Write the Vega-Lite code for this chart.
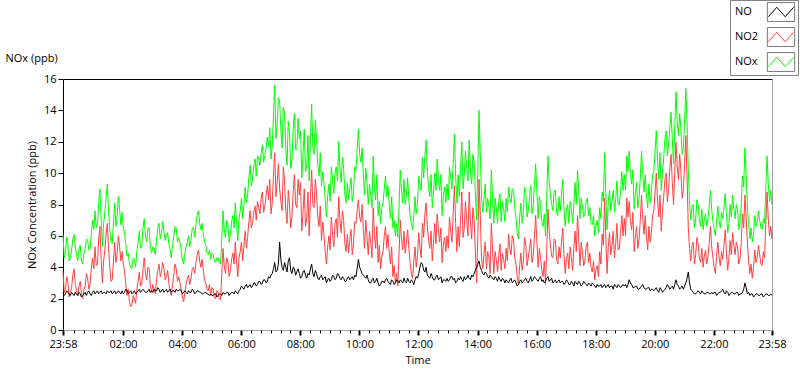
{
"$schema":"https://vega.github.io/schema/vega-lite/v6.json",
"width":709,"height":251,
"autosize":{"type":"none"},
"padding":{"left":63,"top":79,"right":28,"bottom":39},
"background":"#ffffff",
"config":{"font":"Open Sans","view":{"stroke":null},
 "axis":{"labelFont":"Open Sans","titleFont":"Open Sans","labelFontSize":11,"titleFontSize":11,"labelColor":"#000000","titleColor":"#000000","titleFontWeight":"normal","grid":false},
 "legend":{"labelFont":"Open Sans","labelFontSize":11,"labelColor":"#000000"}},
"data":{"values":[
{"t":0,"NO":2.4,"NO2":3.7,"NOx":6.1},{"t":5,"NO":2.3,"NO2":2.6,"NOx":4.9},{"t":10,"NO":2.4,"NO2":3.0,"NOx":5.4},{"t":15,"NO":2.2,"NO2":2.4,"NOx":4.6},{"t":20,"NO":2.3,"NO2":3.5,"NOx":5.8},{"t":25,"NO":2.4,"NO2":2.9,"NOx":5.3},{"t":30,"NO":2.2,"NO2":2.2,"NOx":4.4},{"t":35,"NO":2.3,"NO2":3.1,"NOx":5.4},{"t":40,"NO":2.2,"NO2":2.0,"NOx":4.2},{"t":45,"NO":2.4,"NO2":2.8,"NOx":5.2},{"t":50,"NO":2.4,"NO2":3.3,"NOx":5.7},{"t":55,"NO":2.3,"NO2":2.9,"NOx":5.2},
{"t":60,"NO":2.4,"NO2":4.6,"NOx":7.0},{"t":65,"NO":2.3,"NO2":5.3,"NOx":7.6},{"t":70,"NO":2.5,"NO2":4.2,"NOx":6.7},{"t":75,"NO":2.4,"NO2":6.6,"NOx":9.0},{"t":80,"NO":2.3,"NO2":3.0,"NOx":5.3},{"t":85,"NO":2.4,"NO2":5.1,"NOx":7.5},{"t":90,"NO":2.5,"NO2":6.8,"NOx":9.3},{"t":95,"NO":2.4,"NO2":4.0,"NOx":6.4},{"t":100,"NO":2.3,"NO2":3.2,"NOx":5.5},{"t":105,"NO":2.5,"NO2":5.6,"NOx":8.1},{"t":110,"NO":2.4,"NO2":4.9,"NOx":7.3},{"t":115,"NO":2.4,"NO2":5.3,"NOx":7.7},
{"t":120,"NO":2.5,"NO2":5.0,"NOx":7.5},{"t":125,"NO":2.4,"NO2":3.8,"NOx":6.2},{"t":130,"NO":2.5,"NO2":2.2,"NOx":4.7},{"t":135,"NO":2.4,"NO2":1.8,"NOx":4.2},{"t":140,"NO":2.3,"NO2":1.6,"NOx":3.9},{"t":145,"NO":2.5,"NO2":2.0,"NOx":4.5},{"t":150,"NO":2.4,"NO2":2.6,"NOx":5.0},{"t":155,"NO":2.6,"NO2":3.7,"NOx":6.3},{"t":160,"NO":2.5,"NO2":2.9,"NOx":5.4},{"t":165,"NO":2.5,"NO2":4.6,"NOx":7.1},{"t":170,"NO":2.4,"NO2":3.2,"NOx":5.6},{"t":175,"NO":2.6,"NO2":3.9,"NOx":6.5},
{"t":180,"NO":2.5,"NO2":2.4,"NOx":4.9},{"t":185,"NO":2.6,"NO2":2.6,"NOx":5.2},{"t":190,"NO":2.5,"NO2":3.2,"NOx":5.7},{"t":195,"NO":2.6,"NO2":4.2,"NOx":6.8},{"t":200,"NO":2.5,"NO2":3.7,"NOx":6.2},{"t":205,"NO":2.4,"NO2":3.9,"NOx":6.3},{"t":210,"NO":2.6,"NO2":3.4,"NOx":6.0},{"t":215,"NO":2.5,"NO2":3.0,"NOx":5.5},{"t":220,"NO":2.4,"NO2":2.2,"NOx":4.6},{"t":225,"NO":2.5,"NO2":3.5,"NOx":6.0},{"t":230,"NO":2.6,"NO2":3.9,"NOx":6.5},{"t":235,"NO":2.5,"NO2":3.4,"NOx":5.9},
{"t":240,"NO":2.5,"NO2":2.6,"NOx":5.1},{"t":245,"NO":2.4,"NO2":1.8,"NOx":4.2},{"t":250,"NO":2.4,"NO2":2.9,"NOx":5.3},{"t":255,"NO":2.5,"NO2":3.5,"NOx":6.0},{"t":260,"NO":2.4,"NO2":3.3,"NOx":5.7},{"t":265,"NO":2.5,"NO2":4.0,"NOx":6.5},{"t":270,"NO":2.4,"NO2":4.3,"NOx":6.7},{"t":275,"NO":2.5,"NO2":5.1,"NOx":7.6},{"t":280,"NO":2.4,"NO2":4.0,"NOx":6.4},{"t":285,"NO":2.3,"NO2":3.8,"NOx":6.1},{"t":290,"NO":2.4,"NO2":3.0,"NOx":5.4},{"t":295,"NO":2.3,"NO2":2.5,"NOx":4.8},
{"t":300,"NO":2.3,"NO2":2.2,"NOx":4.5},{"t":305,"NO":2.2,"NO2":2.6,"NOx":4.8},{"t":310,"NO":2.3,"NO2":2.0,"NOx":4.3},{"t":315,"NO":2.2,"NO2":2.4,"NOx":4.6},{"t":320,"NO":2.3,"NO2":1.9,"NOx":4.2},{"t":325,"NO":2.4,"NO2":5.2,"NOx":7.6},{"t":330,"NO":2.3,"NO2":3.6,"NOx":5.9},{"t":335,"NO":2.4,"NO2":4.3,"NOx":6.7},{"t":340,"NO":2.3,"NO2":3.8,"NOx":6.1},{"t":345,"NO":2.4,"NO2":4.9,"NOx":7.3},{"t":350,"NO":2.5,"NO2":5.6,"NOx":8.1},{"t":355,"NO":2.3,"NO2":3.4,"NOx":5.7},
{"t":360,"NO":2.6,"NO2":5.0,"NOx":7.6},{"t":365,"NO":2.7,"NO2":4.4,"NOx":7.1},{"t":370,"NO":2.8,"NO2":6.3,"NOx":9.1},{"t":375,"NO":2.7,"NO2":5.9,"NOx":8.6},{"t":380,"NO":2.9,"NO2":7.6,"NOx":10.5},{"t":385,"NO":2.8,"NO2":6.8,"NOx":9.6},{"t":390,"NO":3.0,"NO2":7.9,"NOx":10.9},{"t":395,"NO":2.9,"NO2":8.2,"NOx":11.1},{"t":400,"NO":3.1,"NO2":7.4,"NOx":10.5},{"t":405,"NO":3.0,"NO2":8.8,"NOx":11.8},{"t":410,"NO":3.2,"NO2":7.9,"NOx":11.1},{"t":415,"NO":3.1,"NO2":9.2,"NOx":12.3},
{"t":420,"NO":3.3,"NO2":9.6,"NOx":12.9},{"t":425,"NO":3.6,"NO2":8.1,"NOx":11.7},{"t":430,"NO":4.3,"NO2":11.3,"NOx":15.6},{"t":435,"NO":3.8,"NO2":9.4,"NOx":13.2},{"t":440,"NO":5.6,"NO2":9.0,"NOx":14.6},{"t":445,"NO":4.0,"NO2":7.6,"NOx":11.6},{"t":450,"NO":4.3,"NO2":9.5,"NOx":13.8},{"t":455,"NO":3.7,"NO2":6.8,"NOx":10.5},{"t":460,"NO":4.6,"NO2":8.0,"NOx":12.6},{"t":465,"NO":3.6,"NO2":7.2,"NOx":10.8},{"t":470,"NO":3.9,"NO2":9.9,"NOx":13.8},{"t":475,"NO":3.7,"NO2":7.8,"NOx":11.5},
{"t":480,"NO":3.6,"NO2":8.6,"NOx":12.2},{"t":485,"NO":3.4,"NO2":6.3,"NOx":9.7},{"t":490,"NO":3.8,"NO2":9.0,"NOx":12.8},{"t":495,"NO":3.3,"NO2":7.1,"NOx":10.4},{"t":500,"NO":3.5,"NO2":6.0,"NOx":9.5},{"t":505,"NO":4.2,"NO2":10.2,"NOx":14.4},{"t":510,"NO":3.4,"NO2":7.8,"NOx":11.2},{"t":515,"NO":3.6,"NO2":8.6,"NOx":12.2},{"t":520,"NO":3.2,"NO2":6.6,"NOx":9.8},{"t":525,"NO":3.5,"NO2":5.7,"NOx":9.2},{"t":530,"NO":3.3,"NO2":6.1,"NOx":9.4},{"t":535,"NO":3.0,"NO2":4.2,"NOx":7.2},
{"t":540,"NO":3.3,"NO2":6.0,"NOx":9.3},{"t":545,"NO":3.2,"NO2":7.2,"NOx":10.4},{"t":550,"NO":3.4,"NO2":5.3,"NOx":8.7},{"t":555,"NO":3.3,"NO2":7.1,"NOx":10.4},{"t":560,"NO":3.5,"NO2":8.5,"NOx":12.0},{"t":565,"NO":3.2,"NO2":6.2,"NOx":9.4},{"t":570,"NO":3.3,"NO2":7.0,"NOx":10.3},{"t":575,"NO":3.1,"NO2":5.0,"NOx":8.1},{"t":580,"NO":3.4,"NO2":4.9,"NOx":8.3},{"t":585,"NO":3.3,"NO2":6.4,"NOx":9.7},{"t":590,"NO":3.2,"NO2":5.5,"NOx":8.7},{"t":595,"NO":3.4,"NO2":6.8,"NOx":10.2},
{"t":600,"NO":4.5,"NO2":8.3,"NOx":12.8},{"t":605,"NO":3.8,"NO2":6.9,"NOx":10.7},{"t":610,"NO":3.5,"NO2":6.4,"NOx":9.9},{"t":615,"NO":3.3,"NO2":7.0,"NOx":10.3},{"t":620,"NO":3.2,"NO2":4.8,"NOx":8.0},{"t":625,"NO":3.0,"NO2":5.6,"NOx":8.6},{"t":630,"NO":3.3,"NO2":7.8,"NOx":11.1},{"t":635,"NO":3.1,"NO2":5.2,"NOx":8.3},{"t":640,"NO":3.0,"NO2":4.3,"NOx":7.3},{"t":645,"NO":2.9,"NO2":3.9,"NOx":6.8},{"t":650,"NO":3.1,"NO2":5.0,"NOx":8.1},{"t":655,"NO":3.2,"NO2":6.6,"NOx":9.8},
{"t":660,"NO":3.1,"NO2":6.1,"NOx":9.2},{"t":665,"NO":2.9,"NO2":4.2,"NOx":7.1},{"t":670,"NO":3.1,"NO2":3.4,"NOx":6.5},{"t":675,"NO":3.0,"NO2":3.0,"NOx":6.0},{"t":680,"NO":3.1,"NO2":2.8,"NOx":5.9},{"t":685,"NO":3.2,"NO2":7.0,"NOx":10.2},{"t":690,"NO":3.0,"NO2":5.1,"NOx":8.1},{"t":695,"NO":3.1,"NO2":4.9,"NOx":8.0},{"t":700,"NO":3.3,"NO2":6.4,"NOx":9.7},{"t":705,"NO":3.0,"NO2":4.3,"NOx":7.3},{"t":710,"NO":3.1,"NO2":3.3,"NOx":6.4},{"t":715,"NO":3.2,"NO2":5.3,"NOx":8.5},
{"t":720,"NO":3.3,"NO2":4.8,"NOx":8.1},{"t":725,"NO":4.0,"NO2":5.3,"NOx":9.3},{"t":730,"NO":4.2,"NO2":6.8,"NOx":11.0},{"t":735,"NO":3.7,"NO2":7.4,"NOx":11.1},{"t":740,"NO":3.5,"NO2":6.6,"NOx":10.1},{"t":745,"NO":3.3,"NO2":5.2,"NOx":8.5},{"t":750,"NO":3.4,"NO2":4.4,"NOx":7.8},{"t":755,"NO":3.2,"NO2":6.8,"NOx":10.0},{"t":760,"NO":3.5,"NO2":7.4,"NOx":10.9},{"t":765,"NO":3.3,"NO2":5.6,"NOx":8.9},{"t":770,"NO":3.0,"NO2":4.3,"NOx":7.3},{"t":775,"NO":3.2,"NO2":5.9,"NOx":9.1},
{"t":780,"NO":3.3,"NO2":6.0,"NOx":9.3},{"t":785,"NO":3.2,"NO2":7.2,"NOx":10.4},{"t":790,"NO":3.4,"NO2":5.6,"NOx":9.0},{"t":795,"NO":3.3,"NO2":9.2,"NOx":12.5},{"t":800,"NO":3.1,"NO2":5.0,"NOx":8.1},{"t":805,"NO":3.2,"NO2":5.3,"NOx":8.5},{"t":810,"NO":3.2,"NO2":8.8,"NOx":12.0},{"t":815,"NO":3.4,"NO2":6.5,"NOx":9.9},{"t":820,"NO":3.3,"NO2":7.0,"NOx":10.3},{"t":825,"NO":3.3,"NO2":8.8,"NOx":12.1},{"t":830,"NO":3.5,"NO2":5.8,"NOx":9.3},{"t":835,"NO":3.6,"NO2":7.1,"NOx":10.7},
{"t":840,"NO":4.0,"NO2":3.0,"NOx":7.0},{"t":845,"NO":4.4,"NO2":9.6,"NOx":14.0},{"t":850,"NO":3.8,"NO2":4.6,"NOx":8.4},{"t":855,"NO":3.5,"NO2":4.8,"NOx":8.3},{"t":860,"NO":3.6,"NO2":3.9,"NOx":7.5},{"t":865,"NO":3.3,"NO2":4.6,"NOx":7.9},{"t":870,"NO":3.4,"NO2":6.8,"NOx":10.2},{"t":875,"NO":3.2,"NO2":3.6,"NOx":6.8},{"t":880,"NO":3.3,"NO2":4.5,"NOx":7.8},{"t":885,"NO":3.4,"NO2":4.8,"NOx":8.2},{"t":890,"NO":3.1,"NO2":3.8,"NOx":6.9},{"t":895,"NO":3.2,"NO2":4.5,"NOx":7.7},
{"t":900,"NO":3.2,"NO2":5.2,"NOx":8.4},{"t":905,"NO":3.0,"NO2":6.1,"NOx":9.1},{"t":910,"NO":3.3,"NO2":4.8,"NOx":8.1},{"t":915,"NO":3.1,"NO2":5.8,"NOx":8.9},{"t":920,"NO":3.0,"NO2":4.2,"NOx":7.2},{"t":925,"NO":2.9,"NO2":2.9,"NOx":5.8},{"t":930,"NO":3.2,"NO2":4.9,"NOx":8.1},{"t":935,"NO":3.1,"NO2":4.4,"NOx":7.5},{"t":940,"NO":3.3,"NO2":5.4,"NOx":8.7},{"t":945,"NO":3.0,"NO2":4.6,"NOx":7.6},{"t":950,"NO":3.4,"NO2":5.8,"NOx":9.2},{"t":955,"NO":3.2,"NO2":4.7,"NOx":7.9},
{"t":960,"NO":3.3,"NO2":7.3,"NOx":10.6},{"t":965,"NO":3.1,"NO2":4.0,"NOx":7.1},{"t":970,"NO":3.4,"NO2":4.6,"NOx":8.0},{"t":975,"NO":3.2,"NO2":3.4,"NOx":6.6},{"t":980,"NO":3.1,"NO2":2.9,"NOx":6.0},{"t":985,"NO":3.4,"NO2":7.7,"NOx":11.1},{"t":990,"NO":3.2,"NO2":5.4,"NOx":8.6},{"t":995,"NO":3.0,"NO2":4.6,"NOx":7.6},{"t":1000,"NO":3.2,"NO2":5.7,"NOx":8.9},{"t":1005,"NO":3.1,"NO2":4.2,"NOx":7.3},{"t":1010,"NO":3.0,"NO2":4.6,"NOx":7.6},{"t":1015,"NO":3.1,"NO2":6.5,"NOx":9.6},
{"t":1020,"NO":3.0,"NO2":3.6,"NOx":6.6},{"t":1025,"NO":3.1,"NO2":4.9,"NOx":8.0},{"t":1030,"NO":2.9,"NO2":5.3,"NOx":8.2},{"t":1035,"NO":3.0,"NO2":3.8,"NOx":6.8},{"t":1040,"NO":3.1,"NO2":6.3,"NOx":9.4},{"t":1045,"NO":2.9,"NO2":7.3,"NOx":10.2},{"t":1050,"NO":3.0,"NO2":4.1,"NOx":7.1},{"t":1055,"NO":2.9,"NO2":5.0,"NOx":7.9},{"t":1060,"NO":3.0,"NO2":4.4,"NOx":7.4},{"t":1065,"NO":2.8,"NO2":5.6,"NOx":8.4},{"t":1070,"NO":2.9,"NO2":4.9,"NOx":7.8},{"t":1075,"NO":3.0,"NO2":3.7,"NOx":6.7},
{"t":1080,"NO":2.8,"NO2":3.2,"NOx":6.0},{"t":1085,"NO":2.9,"NO2":4.1,"NOx":7.0},{"t":1090,"NO":2.8,"NO2":5.0,"NOx":7.8},{"t":1095,"NO":2.7,"NO2":6.1,"NOx":8.8},{"t":1100,"NO":2.9,"NO2":8.4,"NOx":11.3},{"t":1105,"NO":2.8,"NO2":3.6,"NOx":6.4},{"t":1110,"NO":2.7,"NO2":6.2,"NOx":8.9},{"t":1115,"NO":2.8,"NO2":5.4,"NOx":8.2},{"t":1120,"NO":2.9,"NO2":4.6,"NOx":7.5},{"t":1125,"NO":2.7,"NO2":6.8,"NOx":9.5},{"t":1130,"NO":2.8,"NO2":5.2,"NOx":8.0},{"t":1135,"NO":2.8,"NO2":7.3,"NOx":10.1},
{"t":1140,"NO":2.8,"NO2":7.1,"NOx":9.9},{"t":1145,"NO":2.7,"NO2":8.4,"NOx":11.1},{"t":1150,"NO":3.2,"NO2":8.2,"NOx":11.4},{"t":1155,"NO":2.9,"NO2":6.4,"NOx":9.3},{"t":1160,"NO":2.7,"NO2":5.0,"NOx":7.7},{"t":1165,"NO":2.8,"NO2":6.6,"NOx":9.4},{"t":1170,"NO":2.6,"NO2":5.8,"NOx":8.4},{"t":1175,"NO":2.8,"NO2":8.6,"NOx":11.4},{"t":1180,"NO":2.7,"NO2":6.1,"NOx":8.8},{"t":1185,"NO":2.6,"NO2":6.0,"NOx":8.6},{"t":1190,"NO":2.7,"NO2":6.6,"NOx":9.3},{"t":1195,"NO":2.6,"NO2":6.2,"NOx":8.8},
{"t":1200,"NO":2.5,"NO2":7.6,"NOx":10.1},{"t":1205,"NO":2.7,"NO2":10.0,"NOx":12.7},{"t":1210,"NO":2.4,"NO2":7.2,"NOx":9.6},{"t":1215,"NO":2.6,"NO2":6.3,"NOx":8.9},{"t":1220,"NO":2.5,"NO2":8.5,"NOx":11.0},{"t":1225,"NO":2.7,"NO2":10.0,"NOx":12.7},{"t":1230,"NO":2.8,"NO2":9.0,"NOx":11.8},{"t":1235,"NO":2.7,"NO2":11.2,"NOx":13.9},{"t":1240,"NO":2.6,"NO2":8.0,"NOx":10.6},{"t":1245,"NO":3.2,"NO2":12.0,"NOx":15.2},{"t":1250,"NO":2.8,"NO2":9.6,"NOx":12.4},{"t":1255,"NO":2.7,"NO2":10.1,"NOx":12.8},
{"t":1260,"NO":2.6,"NO2":9.0,"NOx":11.6},{"t":1265,"NO":3.0,"NO2":12.4,"NOx":15.4},{"t":1270,"NO":3.7,"NO2":6.5,"NOx":10.2},{"t":1275,"NO":2.6,"NO2":4.4,"NOx":7.0},{"t":1280,"NO":2.4,"NO2":5.6,"NOx":8.0},{"t":1285,"NO":2.3,"NO2":4.8,"NOx":7.1},{"t":1290,"NO":2.5,"NO2":5.5,"NOx":8.0},{"t":1295,"NO":2.3,"NO2":4.3,"NOx":6.6},{"t":1300,"NO":2.4,"NO2":4.0,"NOx":6.4},{"t":1305,"NO":2.3,"NO2":5.1,"NOx":7.4},{"t":1310,"NO":2.4,"NO2":4.7,"NOx":7.1},{"t":1315,"NO":2.3,"NO2":6.6,"NOx":8.9},
{"t":1320,"NO":2.3,"NO2":4.6,"NOx":6.9},{"t":1325,"NO":2.4,"NO2":3.6,"NOx":6.0},{"t":1330,"NO":2.3,"NO2":5.6,"NOx":7.9},{"t":1335,"NO":2.4,"NO2":4.1,"NOx":6.5},{"t":1340,"NO":2.6,"NO2":4.5,"NOx":7.1},{"t":1345,"NO":2.3,"NO2":6.4,"NOx":8.7},{"t":1350,"NO":2.4,"NO2":3.8,"NOx":6.2},{"t":1355,"NO":2.3,"NO2":5.7,"NOx":8.0},{"t":1360,"NO":2.4,"NO2":6.2,"NOx":8.6},{"t":1365,"NO":2.3,"NO2":4.8,"NOx":7.1},{"t":1370,"NO":2.4,"NO2":5.3,"NOx":7.7},{"t":1375,"NO":2.3,"NO2":4.5,"NOx":6.8},
{"t":1380,"NO":2.4,"NO2":7.4,"NOx":9.8},{"t":1385,"NO":3.0,"NO2":8.6,"NOx":11.6},{"t":1390,"NO":2.3,"NO2":5.6,"NOx":7.9},{"t":1395,"NO":2.2,"NO2":3.6,"NOx":5.8},{"t":1400,"NO":2.3,"NO2":3.3,"NOx":5.6},{"t":1405,"NO":2.2,"NO2":5.1,"NOx":7.3},{"t":1410,"NO":2.3,"NO2":4.6,"NOx":6.9},{"t":1415,"NO":2.2,"NO2":4.8,"NOx":7.0},{"t":1420,"NO":2.3,"NO2":4.1,"NOx":6.4},{"t":1425,"NO":2.2,"NO2":4.6,"NOx":6.8},{"t":1430,"NO":2.3,"NO2":8.8,"NOx":11.1},{"t":1435,"NO":2.2,"NO2":6.0,"NOx":8.2},{"t":1440,"NO":2.2,"NO2":5.8,"NOx":8.0},
{"t":2.5,"NO":2.2,"NO2":2.4,"NOx":4.6},{"t":7.5,"NO":2.5,"NO2":3.4,"NOx":5.9},{"t":12.5,"NO":2.3,"NO2":2.1,"NOx":4.4},{"t":17.5,"NO":2.4,"NO2":2.7,"NOx":5.1},{"t":22.5,"NO":2.2,"NO2":3.9,"NOx":6.1},{"t":27.5,"NO":2.3,"NO2":2.5,"NOx":4.8},{"t":32.5,"NO":2.4,"NO2":2.8,"NOx":5.2},{"t":37.5,"NO":2.1,"NO2":2.3,"NOx":4.4},{"t":42.5,"NO":2.3,"NO2":2.6,"NOx":4.9},{"t":47.5,"NO":2.2,"NO2":3.6,"NOx":5.8},{"t":52.5,"NO":2.5,"NO2":2.6,"NOx":5.1},{"t":57.5,"NO":2.2,"NO2":3.9,"NOx":6.1},
{"t":62.5,"NO":2.5,"NO2":3.9,"NOx":6.4},{"t":67.5,"NO":2.4,"NO2":4.1,"NOx":6.5},{"t":72.5,"NO":2.3,"NO2":5.8,"NOx":8.1},{"t":77.5,"NO":2.5,"NO2":4.5,"NOx":7.0},{"t":82.5,"NO":2.4,"NO2":4.4,"NOx":6.8},{"t":87.5,"NO":2.3,"NO2":6.1,"NOx":8.4},{"t":92.5,"NO":2.4,"NO2":5.2,"NOx":7.6},{"t":97.5,"NO":2.5,"NO2":3.1,"NOx":5.6},{"t":102.5,"NO":2.4,"NO2":4.4,"NOx":6.8},{"t":107.5,"NO":2.3,"NO2":4.3,"NOx":6.6},{"t":112.5,"NO":2.5,"NO2":6.0,"NOx":8.5},{"t":117.5,"NO":2.3,"NO2":4.4,"NOx":6.7},
{"t":122.5,"NO":2.3,"NO2":4.2,"NOx":6.5},{"t":127.5,"NO":2.6,"NO2":2.9,"NOx":5.5},{"t":132.5,"NO":2.3,"NO2":2.6,"NOx":4.9},{"t":137.5,"NO":2.5,"NO2":1.5,"NOx":4.0},{"t":142.5,"NO":2.4,"NO2":2.2,"NOx":4.6},{"t":147.5,"NO":2.3,"NO2":1.7,"NOx":4.0},{"t":152.5,"NO":2.5,"NO2":3.1,"NOx":5.6},{"t":157.5,"NO":2.4,"NO2":2.8,"NOx":5.2},{"t":162.5,"NO":2.6,"NO2":3.9,"NOx":6.5},{"t":167.5,"NO":2.4,"NO2":3.6,"NOx":6.0},{"t":172.5,"NO":2.5,"NO2":4.0,"NOx":6.5},{"t":177.5,"NO":2.4,"NO2":2.8,"NOx":5.2},
{"t":182.5,"NO":2.4,"NO2":2.9,"NOx":5.3},{"t":187.5,"NO":2.5,"NO2":2.3,"NOx":4.8},{"t":192.5,"NO":2.7,"NO2":3.8,"NOx":6.5},{"t":197.5,"NO":2.4,"NO2":3.4,"NOx":5.8},{"t":202.5,"NO":2.6,"NO2":4.3,"NOx":6.9},{"t":207.5,"NO":2.5,"NO2":3.2,"NOx":5.7},{"t":212.5,"NO":2.4,"NO2":3.8,"NOx":6.2},{"t":217.5,"NO":2.6,"NO2":2.5,"NOx":5.1},{"t":222.5,"NO":2.5,"NO2":2.9,"NOx":5.4},{"t":227.5,"NO":2.4,"NO2":4.2,"NOx":6.6},{"t":232.5,"NO":2.5,"NO2":3.1,"NOx":5.6},{"t":237.5,"NO":2.6,"NO2":3.0,"NOx":5.6},
{"t":242.5,"NO":2.3,"NO2":2.1,"NOx":4.4},{"t":247.5,"NO":2.5,"NO2":2.4,"NOx":4.9},{"t":252.5,"NO":2.3,"NO2":3.3,"NOx":5.6},{"t":257.5,"NO":2.4,"NO2":2.9,"NOx":5.3},{"t":262.5,"NO":2.6,"NO2":3.9,"NOx":6.5},{"t":267.5,"NO":2.3,"NO2":3.6,"NOx":5.9},{"t":272.5,"NO":2.5,"NO2":4.8,"NOx":7.3},{"t":277.5,"NO":2.4,"NO2":4.4,"NOx":6.8},{"t":282.5,"NO":2.3,"NO2":4.5,"NOx":6.8},{"t":287.5,"NO":2.4,"NO2":3.2,"NOx":5.6},{"t":292.5,"NO":2.3,"NO2":2.6,"NOx":4.9},{"t":297.5,"NO":2.2,"NO2":2.9,"NOx":5.1},
{"t":302.5,"NO":2.2,"NO2":2.7,"NOx":4.9},{"t":307.5,"NO":2.3,"NO2":2.1,"NOx":4.4},{"t":312.5,"NO":2.1,"NO2":2.5,"NOx":4.6},{"t":317.5,"NO":2.3,"NO2":2.0,"NOx":4.3},{"t":322.5,"NO":2.2,"NO2":3.6,"NOx":5.8},{"t":327.5,"NO":2.3,"NO2":4.1,"NOx":6.4},{"t":332.5,"NO":2.4,"NO2":4.6,"NOx":7.0},{"t":337.5,"NO":2.2,"NO2":3.4,"NOx":5.6},{"t":342.5,"NO":2.4,"NO2":4.5,"NOx":6.9},{"t":347.5,"NO":2.3,"NO2":4.2,"NOx":6.5},{"t":352.5,"NO":2.4,"NO2":4.4,"NOx":6.8},{"t":357.5,"NO":2.5,"NO2":4.6,"NOx":7.1},
{"t":362.5,"NO":2.8,"NO2":5.6,"NOx":8.4},{"t":367.5,"NO":2.6,"NO2":5.4,"NOx":8.0},{"t":372.5,"NO":2.9,"NO2":5.2,"NOx":8.1},{"t":377.5,"NO":2.8,"NO2":6.9,"NOx":9.7},{"t":382.5,"NO":2.7,"NO2":6.5,"NOx":9.2},{"t":387.5,"NO":3.0,"NO2":7.5,"NOx":10.5},{"t":392.5,"NO":2.8,"NO2":7.0,"NOx":9.8},{"t":397.5,"NO":3.1,"NO2":7.8,"NOx":10.9},{"t":402.5,"NO":2.9,"NO2":8.4,"NOx":11.3},{"t":407.5,"NO":3.2,"NO2":7.5,"NOx":10.7},{"t":412.5,"NO":3.0,"NO2":8.6,"NOx":11.6},{"t":417.5,"NO":3.4,"NO2":8.3,"NOx":11.7},
{"t":422.5,"NO":3.5,"NO2":7.4,"NOx":10.9},{"t":427.5,"NO":3.9,"NO2":9.8,"NOx":13.7},{"t":432.5,"NO":3.7,"NO2":8.5,"NOx":12.2},{"t":437.5,"NO":4.2,"NO2":10.6,"NOx":14.8},{"t":442.5,"NO":4.5,"NO2":8.2,"NOx":12.7},{"t":447.5,"NO":3.8,"NO2":10.4,"NOx":14.2},{"t":452.5,"NO":4.0,"NO2":7.6,"NOx":11.6},{"t":457.5,"NO":4.4,"NO2":8.9,"NOx":13.3},{"t":462.5,"NO":3.8,"NO2":6.5,"NOx":10.3},{"t":467.5,"NO":4.0,"NO2":8.8,"NOx":12.8},{"t":472.5,"NO":3.5,"NO2":8.0,"NOx":11.5},{"t":477.5,"NO":3.9,"NO2":9.6,"NOx":13.5},
{"t":482.5,"NO":3.3,"NO2":9.4,"NOx":12.7},{"t":487.5,"NO":3.7,"NO2":7.5,"NOx":11.2},{"t":492.5,"NO":3.5,"NO2":6.6,"NOx":10.1},{"t":497.5,"NO":3.6,"NO2":8.8,"NOx":12.4},{"t":502.5,"NO":3.9,"NO2":8.3,"NOx":12.2},{"t":507.5,"NO":3.6,"NO2":8.0,"NOx":11.6},{"t":512.5,"NO":3.8,"NO2":9.6,"NOx":13.4},{"t":517.5,"NO":3.3,"NO2":7.2,"NOx":10.5},{"t":522.5,"NO":3.4,"NO2":7.9,"NOx":11.3},{"t":527.5,"NO":3.2,"NO2":6.9,"NOx":10.1},{"t":532.5,"NO":3.4,"NO2":5.0,"NOx":8.4},{"t":537.5,"NO":3.2,"NO2":5.3,"NOx":8.5},
{"t":542.5,"NO":3.1,"NO2":5.1,"NOx":8.2},{"t":547.5,"NO":3.5,"NO2":6.1,"NOx":9.6},{"t":552.5,"NO":3.2,"NO2":6.8,"NOx":10.0},{"t":557.5,"NO":3.6,"NO2":5.9,"NOx":9.5},{"t":562.5,"NO":3.3,"NO2":7.0,"NOx":10.3},{"t":567.5,"NO":3.4,"NO2":7.6,"NOx":11.0},{"t":572.5,"NO":3.1,"NO2":5.5,"NOx":8.6},{"t":577.5,"NO":3.3,"NO2":6.1,"NOx":9.4},{"t":582.5,"NO":3.2,"NO2":5.8,"NOx":9.0},{"t":587.5,"NO":3.4,"NO2":4.8,"NOx":8.2},{"t":592.5,"NO":3.5,"NO2":6.9,"NOx":10.4},{"t":597.5,"NO":3.9,"NO2":7.6,"NOx":11.5},
{"t":602.5,"NO":4.0,"NO2":7.2,"NOx":11.2},{"t":607.5,"NO":3.6,"NO2":8.0,"NOx":11.6},{"t":612.5,"NO":3.4,"NO2":5.2,"NOx":8.6},{"t":617.5,"NO":3.5,"NO2":5.9,"NOx":9.4},{"t":622.5,"NO":3.0,"NO2":6.3,"NOx":9.3},{"t":627.5,"NO":3.2,"NO2":4.6,"NOx":7.8},{"t":632.5,"NO":3.0,"NO2":6.1,"NOx":9.1},{"t":637.5,"NO":3.3,"NO2":6.6,"NOx":9.9},{"t":642.5,"NO":2.8,"NO2":5.4,"NOx":8.2},{"t":647.5,"NO":3.1,"NO2":4.7,"NOx":7.8},{"t":652.5,"NO":3.0,"NO2":6.0,"NOx":9.0},{"t":657.5,"NO":3.3,"NO2":5.2,"NOx":8.5},
{"t":662.5,"NO":3.0,"NO2":5.0,"NOx":8.0},{"t":667.5,"NO":3.2,"NO2":5.3,"NOx":8.5},{"t":672.5,"NO":2.9,"NO2":4.1,"NOx":7.0},{"t":677.5,"NO":3.2,"NO2":3.6,"NOx":6.8},{"t":682.5,"NO":3.0,"NO2":4.9,"NOx":7.9},{"t":687.5,"NO":3.1,"NO2":5.8,"NOx":8.9},{"t":692.5,"NO":3.3,"NO2":6.3,"NOx":9.6},{"t":697.5,"NO":3.0,"NO2":5.6,"NOx":8.6},{"t":702.5,"NO":3.1,"NO2":5.2,"NOx":8.3},{"t":707.5,"NO":3.2,"NO2":3.6,"NOx":6.8},{"t":712.5,"NO":2.9,"NO2":4.4,"NOx":7.3},{"t":717.5,"NO":3.4,"NO2":4.0,"NOx":7.4},
{"t":722.5,"NO":3.6,"NO2":6.2,"NOx":9.8},{"t":727.5,"NO":4.3,"NO2":4.6,"NOx":8.9},{"t":732.5,"NO":3.8,"NO2":5.9,"NOx":9.7},{"t":737.5,"NO":4.0,"NO2":8.1,"NOx":12.1},{"t":742.5,"NO":3.4,"NO2":5.7,"NOx":9.1},{"t":747.5,"NO":3.6,"NO2":6.3,"NOx":9.9},{"t":752.5,"NO":3.2,"NO2":5.6,"NOx":8.8},{"t":757.5,"NO":3.4,"NO2":5.5,"NOx":8.9},{"t":762.5,"NO":3.2,"NO2":6.4,"NOx":9.6},{"t":767.5,"NO":3.4,"NO2":6.5,"NOx":9.9},{"t":772.5,"NO":3.2,"NO2":5.4,"NOx":8.6},{"t":777.5,"NO":3.1,"NO2":5.0,"NOx":8.1},
{"t":782.5,"NO":3.1,"NO2":5.2,"NOx":8.3},{"t":787.5,"NO":3.4,"NO2":6.3,"NOx":9.7},{"t":792.5,"NO":3.2,"NO2":7.4,"NOx":10.6},{"t":797.5,"NO":3.0,"NO2":6.8,"NOx":9.8},{"t":802.5,"NO":3.3,"NO2":6.6,"NOx":9.9},{"t":807.5,"NO":3.4,"NO2":7.0,"NOx":10.4},{"t":812.5,"NO":3.1,"NO2":5.9,"NOx":9.0},{"t":817.5,"NO":3.2,"NO2":8.2,"NOx":11.4},{"t":822.5,"NO":3.5,"NO2":6.0,"NOx":9.5},{"t":827.5,"NO":3.2,"NO2":6.9,"NOx":10.1},{"t":832.5,"NO":3.4,"NO2":7.8,"NOx":11.2},{"t":837.5,"NO":3.8,"NO2":5.0,"NOx":8.8},
{"t":842.5,"NO":4.2,"NO2":6.0,"NOx":10.2},{"t":847.5,"NO":4.0,"NO2":7.3,"NOx":11.3},{"t":852.5,"NO":3.6,"NO2":3.9,"NOx":7.5},{"t":857.5,"NO":3.7,"NO2":5.6,"NOx":9.3},{"t":862.5,"NO":3.4,"NO2":5.0,"NOx":8.4},{"t":867.5,"NO":3.5,"NO2":3.6,"NOx":7.1},{"t":872.5,"NO":3.3,"NO2":5.1,"NOx":8.4},{"t":877.5,"NO":3.4,"NO2":5.0,"NOx":8.4},{"t":882.5,"NO":3.1,"NO2":3.7,"NOx":6.8},{"t":887.5,"NO":3.2,"NO2":5.5,"NOx":8.7},{"t":892.5,"NO":3.3,"NO2":4.9,"NOx":8.2},{"t":897.5,"NO":3.0,"NO2":3.9,"NOx":6.9},
{"t":902.5,"NO":3.1,"NO2":4.4,"NOx":7.5},{"t":907.5,"NO":3.2,"NO2":5.2,"NOx":8.4},{"t":912.5,"NO":3.0,"NO2":6.0,"NOx":9.0},{"t":917.5,"NO":3.2,"NO2":4.6,"NOx":7.8},{"t":922.5,"NO":2.8,"NO2":3.4,"NOx":6.2},{"t":927.5,"NO":3.1,"NO2":4.1,"NOx":7.2},{"t":932.5,"NO":3.0,"NO2":3.8,"NOx":6.8},{"t":937.5,"NO":3.2,"NO2":5.9,"NOx":9.1},{"t":942.5,"NO":3.1,"NO2":4.1,"NOx":7.2},{"t":947.5,"NO":3.2,"NO2":5.2,"NOx":8.4},{"t":952.5,"NO":3.1,"NO2":4.3,"NOx":7.4},{"t":957.5,"NO":3.4,"NO2":5.9,"NOx":9.3},
{"t":962.5,"NO":3.2,"NO2":5.6,"NOx":8.8},{"t":967.5,"NO":3.3,"NO2":5.2,"NOx":8.5},{"t":972.5,"NO":3.1,"NO2":3.8,"NOx":6.9},{"t":977.5,"NO":3.0,"NO2":4.4,"NOx":7.4},{"t":982.5,"NO":3.3,"NO2":5.1,"NOx":8.4},{"t":987.5,"NO":3.1,"NO2":6.3,"NOx":9.4},{"t":992.5,"NO":3.3,"NO2":4.7,"NOx":8.0},{"t":997.5,"NO":3.1,"NO2":5.8,"NOx":8.9},{"t":1002.5,"NO":3.0,"NO2":4.5,"NOx":7.5},{"t":1007.5,"NO":3.2,"NO2":5.3,"NOx":8.5},{"t":1012.5,"NO":3.1,"NO2":5.6,"NOx":8.7},{"t":1017.5,"NO":2.9,"NO2":4.8,"NOx":7.7},
{"t":1022.5,"NO":3.2,"NO2":4.5,"NOx":7.7},{"t":1027.5,"NO":2.9,"NO2":3.9,"NOx":6.8},{"t":1032.5,"NO":3.1,"NO2":4.6,"NOx":7.7},{"t":1037.5,"NO":2.8,"NO2":5.2,"NOx":8.0},{"t":1042.5,"NO":3.0,"NO2":5.0,"NOx":8.0},{"t":1047.5,"NO":3.1,"NO2":5.8,"NOx":8.9},{"t":1052.5,"NO":2.8,"NO2":5.6,"NOx":8.4},{"t":1057.5,"NO":3.1,"NO2":4.1,"NOx":7.2},{"t":1062.5,"NO":2.9,"NO2":5.3,"NOx":8.2},{"t":1067.5,"NO":3.0,"NO2":4.3,"NOx":7.3},{"t":1072.5,"NO":2.8,"NO2":4.0,"NOx":6.8},{"t":1077.5,"NO":2.9,"NO2":4.4,"NOx":7.3},
{"t":1082.5,"NO":2.7,"NO2":3.9,"NOx":6.6},{"t":1087.5,"NO":2.8,"NO2":3.4,"NOx":6.2},{"t":1092.5,"NO":2.9,"NO2":4.2,"NOx":7.1},{"t":1097.5,"NO":2.8,"NO2":5.4,"NOx":8.2},{"t":1102.5,"NO":2.7,"NO2":6.0,"NOx":8.7},{"t":1107.5,"NO":2.9,"NO2":5.3,"NOx":8.2},{"t":1112.5,"NO":2.8,"NO2":4.8,"NOx":7.6},{"t":1117.5,"NO":2.6,"NO2":6.3,"NOx":8.9},{"t":1122.5,"NO":2.8,"NO2":5.5,"NOx":8.3},{"t":1127.5,"NO":2.9,"NO2":5.1,"NOx":8.0},{"t":1132.5,"NO":2.7,"NO2":6.2,"NOx":8.9},{"t":1137.5,"NO":2.9,"NO2":6.0,"NOx":8.9},
{"t":1142.5,"NO":2.9,"NO2":6.0,"NOx":8.9},{"t":1147.5,"NO":2.9,"NO2":7.2,"NOx":10.1},{"t":1152.5,"NO":3.0,"NO2":6.9,"NOx":9.9},{"t":1157.5,"NO":2.7,"NO2":7.5,"NOx":10.2},{"t":1162.5,"NO":2.8,"NO2":5.9,"NOx":8.7},{"t":1167.5,"NO":2.6,"NO2":5.2,"NOx":7.8},{"t":1172.5,"NO":2.7,"NO2":7.0,"NOx":9.7},{"t":1177.5,"NO":2.9,"NO2":7.1,"NOx":10.0},{"t":1182.5,"NO":2.6,"NO2":7.3,"NOx":9.9},{"t":1187.5,"NO":2.7,"NO2":5.1,"NOx":7.8},{"t":1192.5,"NO":2.5,"NO2":5.6,"NOx":8.1},{"t":1197.5,"NO":2.6,"NO2":7.3,"NOx":9.9},
{"t":1202.5,"NO":2.6,"NO2":8.8,"NOx":11.4},{"t":1207.5,"NO":2.5,"NO2":8.3,"NOx":10.8},{"t":1212.5,"NO":2.7,"NO2":8.6,"NOx":11.3},{"t":1217.5,"NO":2.4,"NO2":7.5,"NOx":9.9},{"t":1222.5,"NO":2.6,"NO2":9.6,"NOx":12.2},{"t":1227.5,"NO":2.9,"NO2":8.2,"NOx":11.1},{"t":1232.5,"NO":2.6,"NO2":10.3,"NOx":12.9},{"t":1237.5,"NO":2.8,"NO2":9.4,"NOx":12.2},{"t":1242.5,"NO":2.9,"NO2":10.1,"NOx":13.0},{"t":1247.5,"NO":2.9,"NO2":10.4,"NOx":13.3},{"t":1252.5,"NO":2.6,"NO2":11.2,"NOx":13.8},{"t":1257.5,"NO":2.8,"NO2":8.4,"NOx":11.2},
{"t":1262.5,"NO":2.8,"NO2":10.6,"NOx":13.4},{"t":1267.5,"NO":3.3,"NO2":9.8,"NOx":13.1},{"t":1272.5,"NO":3.0,"NO2":5.2,"NOx":8.2},{"t":1277.5,"NO":2.5,"NO2":5.4,"NOx":7.9},{"t":1282.5,"NO":2.3,"NO2":4.2,"NOx":6.5},{"t":1287.5,"NO":2.4,"NO2":5.9,"NOx":8.3},{"t":1292.5,"NO":2.4,"NO2":4.6,"NOx":7.0},{"t":1297.5,"NO":2.5,"NO2":5.2,"NOx":7.7},{"t":1302.5,"NO":2.3,"NO2":4.7,"NOx":7.0},{"t":1307.5,"NO":2.4,"NO2":4.2,"NOx":6.6},{"t":1312.5,"NO":2.3,"NO2":5.6,"NOx":7.9},{"t":1317.5,"NO":2.4,"NO2":5.3,"NOx":7.7},
{"t":1322.5,"NO":2.4,"NO2":4.0,"NOx":6.4},{"t":1327.5,"NO":2.2,"NO2":4.7,"NOx":6.9},{"t":1332.5,"NO":2.4,"NO2":4.6,"NOx":7.0},{"t":1337.5,"NO":2.5,"NO2":5.0,"NOx":7.5},{"t":1342.5,"NO":2.4,"NO2":5.4,"NOx":7.8},{"t":1347.5,"NO":2.5,"NO2":4.9,"NOx":7.4},{"t":1352.5,"NO":2.2,"NO2":4.6,"NOx":6.8},{"t":1357.5,"NO":2.4,"NO2":4.8,"NOx":7.2},{"t":1362.5,"NO":2.3,"NO2":5.4,"NOx":7.7},{"t":1367.5,"NO":2.4,"NO2":5.6,"NOx":8.0},{"t":1372.5,"NO":2.2,"NO2":4.2,"NOx":6.4},{"t":1377.5,"NO":2.3,"NO2":5.6,"NOx":7.9},
{"t":1382.5,"NO":2.6,"NO2":6.5,"NOx":9.1},{"t":1387.5,"NO":2.7,"NO2":7.2,"NOx":9.9},{"t":1392.5,"NO":2.4,"NO2":4.4,"NOx":6.8},{"t":1397.5,"NO":2.3,"NO2":4.2,"NOx":6.5},{"t":1402.5,"NO":2.1,"NO2":4.0,"NOx":6.1},{"t":1407.5,"NO":2.3,"NO2":4.3,"NOx":6.6},{"t":1412.5,"NO":2.2,"NO2":5.4,"NOx":7.6},{"t":1417.5,"NO":2.3,"NO2":4.2,"NOx":6.5},{"t":1422.5,"NO":2.1,"NO2":5.0,"NOx":7.1},{"t":1427.5,"NO":2.3,"NO2":6.9,"NOx":9.2},{"t":1432.5,"NO":2.2,"NO2":7.1,"NOx":9.3},{"t":1437.5,"NO":2.3,"NO2":6.6,"NOx":8.9}
]},
"layer":[
 {"transform":[{"fold":["NOx","NO2","NO"],"as":["series","value"]}],
  "mark":{"type":"line","strokeWidth":1},
  "encoding":{
   "x":{"field":"t","type":"quantitative","scale":{"domain":[0,1440],"nice":false,"zero":false},
        "axis":{"values":[0,122,242,362,482,602,722,842,962,1082,1202,1322,1440],"labelExpr":"timeFormat(datetime(2000,0,1,23,58+datum.value),'%H:%M')","tickSize":5,"tickWidth":2,"tickColor":"#000000","domainColor":"#a0a0a0","labelPadding":3,"labelOverlap":false,"labelFlush":false,"title":"Time","titlePadding":5}},
   "y":{"field":"value","type":"quantitative","scale":{"domain":[0,16],"nice":false},
        "axis":{"values":[0,2,4,6,8,10,12,14,16],"tickSize":5,"tickColor":"#000000","domainColor":"#000000","labelPadding":2,"title":"NOx Concentration (ppb)","titlePadding":6}},
   "color":{"field":"series","type":"nominal","scale":{"range":["#000000","#ff4040","#00ff00"]},
        "legend":{"title":null,"orient":"none","legendX":667,"legendY":-79,"direction":"vertical","padding":1,"strokeColor":"#808080","fillColor":"#ffffff","symbolType":"M-1.3,-0.9M1.3,0.9M-1.2,0.45L-0.4,-0.45L0.4,0.45L1.2,-0.45","symbolSize":441,"symbolStrokeWidth":1,"symbolFillColor":"transparent","symbolOffset":39,"labelOffset":-57,"rowPadding":1}}
  }},
 {"data":{"values":[]},
  "mark":{"type":"point","filled":false,"color":"#404040"},
  "encoding":{
   "x":{"field":"t","type":"quantitative","scale":{"domain":[0,1440],"nice":false,"zero":false},
        "axis":{"values":[22,42,62,82,102,122,142,162,182,202,222,242,262,282,302,322,342,362,382,402,422,442,462,482,502,522,542,562,582,602,622,642,662,682,702,722,742,762,782,802,822,842,862,882,902,922,942,962,982,1002,1022,1042,1062,1082,1102,1122,1142,1162,1182,1202,1222,1242,1262,1282,1302,1322,1342,1362,1382,1402,1422],"labels":false,"domain":false,"tickSize":3,"tickColor":"#000000","title":null,"orient":"bottom"}},
   "y":{"field":"value","type":"quantitative","scale":{"domain":[0,16],"nice":false},
        "axis":{"orient":"right","ticks":false,"labels":false,"domainColor":"#a0a0a0","title":null}},
   "shape":{"field":"series","type":"nominal","scale":{"domain":["NO","NO2","NOx"],"range":["M-1.3,-0.9H1.3V0.9H-1.3Z","M-1.3,-0.9H1.3V0.9H-1.3Z","M-1.3,-0.9H1.3V0.9H-1.3Z"]},
        "legend":{"title":null,"orient":"none","legendX":667,"legendY":-79,"direction":"vertical","padding":1,"symbolSize":441,"symbolStrokeWidth":1,"symbolStrokeColor":"#404040","symbolFillColor":"transparent","symbolOffset":39,"labelOffset":-57,"rowPadding":1,"labelExpr":"''"}}
  }},
 {"data":{"values":[]},
  "mark":{"type":"point"},
  "encoding":{
   "x":{"field":"t","type":"quantitative","scale":{"domain":[0,1440],"nice":false,"zero":false},
        "axis":{"orient":"top","ticks":false,"labels":false,"domainColor":"#000000","title":null}},
   "y":{"field":"value","type":"quantitative","scale":{"domain":[0,16],"nice":false},
        "axis":{"orient":"left","domain":false,"ticks":false,"labels":false,"title":"NOx (ppb)","titleAngle":0,"titleAlign":"left","titleBaseline":"alphabetic","titleX":-58,"titleY":-18}}
  }}
],
"resolve":{"axis":{"x":"independent","y":"independent"}}
}
